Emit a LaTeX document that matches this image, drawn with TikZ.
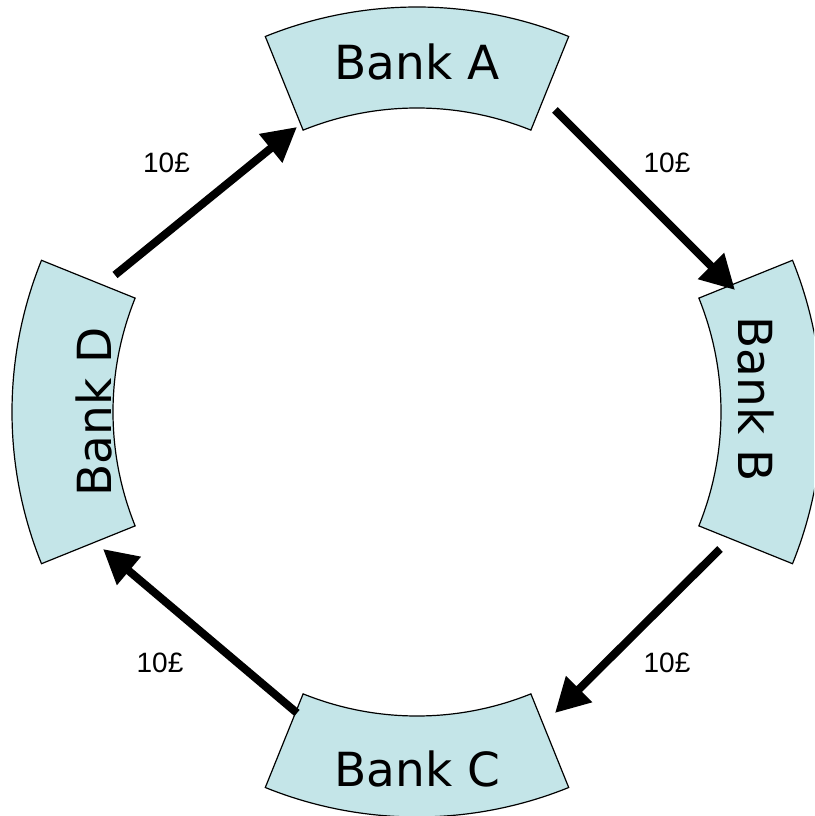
\documentclass[tikz,border=0pt]{standalone}
\usepackage{fontspec}
\setmainfont{DejaVu Sans}
\newfontfamily\labelfont{Liberation Sans}
\usetikzlibrary{arrows.meta}
\definecolor{bankfill}{RGB}{196,229,232}
\tikzset{
  bankshape/.style={draw=black, line width=1.2pt, fill=bankfill, line join=miter},
  banktext/.style={inner sep=0pt, anchor=base, font=\fontsize{47}{56}\selectfont},
  flow/.style={line width=8pt, -{Triangle[length=34pt,width=35pt]}},
  amount/.style={inner sep=0pt, font=\labelfont\fontsize{28}{33}\selectfont},
}
\begin{document}
\begin{tikzpicture}[x=1pt,y=1pt]
  % page frame, origin at the centre of the ring
  \useasboundingbox (-417,-404) rectangle (397,412);
  \clip (-417,-404) rectangle (397,412);

  % four ring segments, outer radius 405, inner radius 304
  \def\rOut{405}\def\rIn{304}
  \foreach \mid in {90,0,270,180}{
    \path[bankshape] ({\mid-22}:\rOut) arc[start angle=\mid-22, end angle=\mid+22, radius=\rOut]
      -- ({\mid+22}:\rIn) arc[start angle=\mid+22, end angle=\mid-22, radius=\rIn] -- cycle;
  }

  % bank names
  \node[banktext] (bankA) at (0,332) {Bank A};
  \node[banktext, rotate=-90] (bankB) at (321,13) {Bank B};
  \node[banktext] (bankC) at (0.5,-374) {Bank C};
  \node[banktext, rotate=90] (bankD) at (-305,0) {Bank D};

  % ends of the transfers
  \coordinate (A-out) at (138,302);
  \coordinate (B-in)  at (318,122);
  \coordinate (B-out) at (303,-137);
  \coordinate (C-in)  at (138,-301);
  \coordinate (C-out) at (-120,-301);
  \coordinate (D-in)  at (-314,-137);
  \coordinate (D-out) at (-302,137);
  \coordinate (A-in)  at (-120,285);

  \draw[flow] (A-out) -- (B-in);
  \draw[flow] (B-out) -- (C-in);
  \draw[flow] (C-out) -- (D-in);
  \draw[flow] (D-out) -- (A-in);

  % amounts
  \node[amount] (amtDA) at (-250.5,249) {10£};
  \node[amount] (amtAB) at (250,249) {10£};
  \node[amount] (amtCD) at (-257,-251) {10£};
  \node[amount] (amtBC) at (250,-251) {10£};
\end{tikzpicture}
\end{document}
